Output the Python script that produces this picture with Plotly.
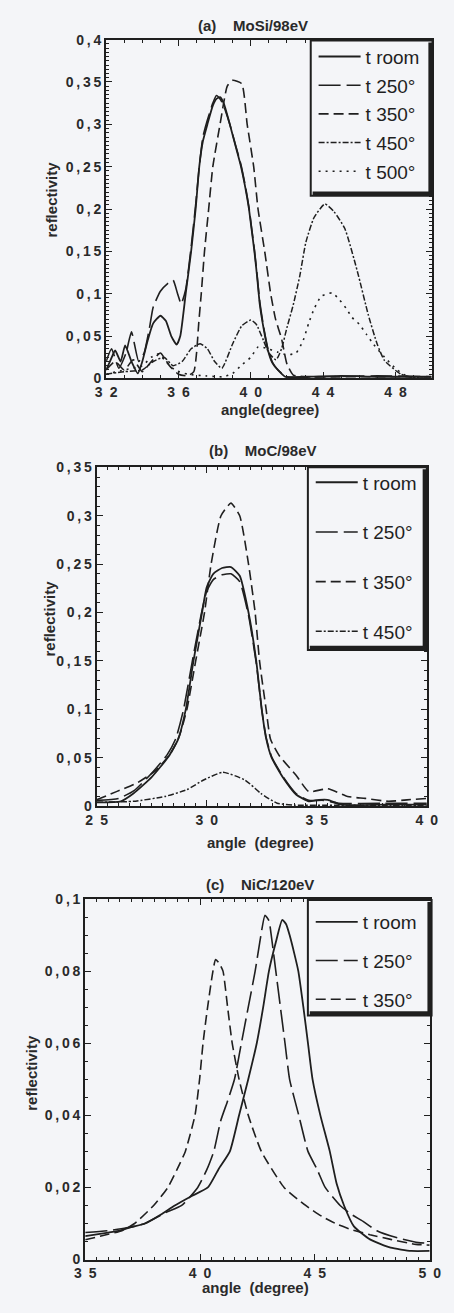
import plotly.graph_objects as go

# ---- (a) MoSi/98eV ----
a_room_x = [32.0, 32.25, 32.5, 32.8, 33.05, 33.4, 33.75, 34.0, 34.3, 34.6, 35.0, 35.3, 35.6, 35.9, 36.1, 36.4,
            36.7, 36.95, 37.15, 37.35, 37.6, 37.9, 38.1, 38.3, 38.5, 38.84, 39.15, 39.46, 39.7, 39.9, 40.05,
            40.2, 40.35, 40.5, 40.7, 40.95, 41.2, 41.5, 41.9, 43.0, 45.0, 47.0, 50.0]
a_room_y = [0.010, 0.022, 0.033, 0.020, 0.039, 0.020, 0.006, 0.020, 0.045, 0.065, 0.074, 0.068, 0.050, 0.040,
            0.050, 0.100, 0.150, 0.200, 0.250, 0.280, 0.300, 0.322, 0.330, 0.332, 0.325, 0.300, 0.275, 0.250,
            0.225, 0.200, 0.175, 0.150, 0.120, 0.087, 0.060, 0.033, 0.018, 0.010, 0.002, 0.002, 0.003, 0.002,
            0.002]
a_250_x = [32.0, 32.3, 32.7, 33.1, 33.4, 33.8, 34.1, 34.4, 34.6, 35.0, 35.4, 35.7, 35.95, 36.15, 36.4, 36.7,
           36.95, 37.15, 37.35, 37.6, 37.9, 38.1, 38.3, 38.5, 38.84, 39.15, 39.46, 39.7, 39.9, 40.05, 40.2,
           40.35, 40.5, 40.7, 40.95, 41.2, 41.5, 42.0, 44.0, 47.0, 50.0]
a_250_y = [0.020, 0.035, 0.012, 0.030, 0.055, 0.020, 0.030, 0.060, 0.084, 0.103, 0.112, 0.116, 0.100, 0.088,
           0.105, 0.155, 0.205, 0.250, 0.285, 0.305, 0.325, 0.334, 0.330, 0.322, 0.300, 0.276, 0.252, 0.227,
           0.202, 0.177, 0.152, 0.122, 0.090, 0.062, 0.035, 0.019, 0.010, 0.002, 0.002, 0.003, 0.002]
a_350_x = [32.0, 32.5, 33.0, 33.5, 34.0, 34.5, 35.0, 35.5, 36.0, 36.5, 36.85, 37.0, 37.12, 37.26, 37.44, 37.67,
           37.9, 38.3, 38.7, 39.0, 39.5, 39.8, 40.16, 40.4, 40.77, 41.1, 41.37, 41.7, 42.0, 42.35, 43.0, 46.0,
           50.0]
a_350_y = [0.010, 0.020, 0.010, 0.022, 0.008, 0.020, 0.030, 0.015, 0.005, 0.003, 0.008, 0.030, 0.065, 0.100,
           0.150, 0.200, 0.250, 0.300, 0.345, 0.352, 0.348, 0.300, 0.250, 0.200, 0.150, 0.100, 0.070, 0.047,
           0.017, 0.004, 0.002, 0.002, 0.002]
a_450_x = [32.0, 33.0, 34.0, 34.6, 35.2, 35.7, 36.2, 36.7, 37.2, 37.6, 38.0, 38.4, 39.0, 39.5, 40.0, 40.3, 40.7,
           41.0, 41.4, 41.7, 42.0, 42.35, 42.7, 43.05, 43.5, 44.1, 44.6, 45.2, 45.9, 46.5, 47.0, 47.4, 48.3,
           49.0, 50.0]
a_450_y = [0.005, 0.008, 0.010, 0.020, 0.025, 0.015, 0.020, 0.035, 0.041, 0.035, 0.020, 0.012, 0.041, 0.062,
           0.069, 0.064, 0.045, 0.030, 0.022, 0.035, 0.060, 0.087, 0.120, 0.161, 0.190, 0.206, 0.197, 0.177,
           0.126, 0.075, 0.040, 0.021, 0.005, 0.001, 0.0]
a_500_x = [32.0, 33.0, 34.0, 34.5, 34.9, 35.3, 35.8, 36.5, 37.5, 38.5, 39.0, 39.5, 40.0, 40.4, 40.8, 41.5, 42.0,
           42.5, 42.9, 43.2, 43.5, 43.9, 44.5, 44.9, 45.3, 45.6, 46.0, 46.4, 46.8, 47.4, 48.1, 48.7, 50.0]
a_500_y = [0.005, 0.010, 0.015, 0.025, 0.029, 0.020, 0.010, 0.005, 0.003, 0.002, 0.006, 0.016, 0.025, 0.037,
           0.036, 0.031, 0.028, 0.030, 0.045, 0.065, 0.082, 0.097, 0.101, 0.093, 0.082, 0.072, 0.064, 0.052,
           0.040, 0.025, 0.010, 0.002, 0.0]

# ---- (b) MoC/98eV ----
b_room_x = [25.0, 26.1, 26.67, 27.5, 28.26, 28.7, 29.05, 29.4, 29.78, 30.0, 30.3, 30.7, 31.1, 31.5, 31.9, 32.25,
            32.5, 32.7, 32.95, 33.48, 34.06, 34.64, 35.1, 35.5, 36.1, 38.0, 40.0]
b_room_y = [0.004, 0.005, 0.013, 0.030, 0.051, 0.069, 0.100, 0.150, 0.199, 0.226, 0.240, 0.246, 0.247, 0.238,
            0.200, 0.150, 0.100, 0.070, 0.050, 0.029, 0.012, 0.005, 0.0065, 0.0065, 0.0015, 0.0015, 0.0015]
b_250_x = [25.0, 26.0, 26.7, 27.5, 28.2, 28.6, 28.95, 29.35, 29.75, 30.0, 30.3, 30.7, 31.1, 31.5, 31.9, 32.25,
           32.5, 32.7, 32.95, 33.48, 34.06, 34.64, 35.3, 36.0, 38.0, 40.0]
b_250_y = [0.006, 0.008, 0.016, 0.034, 0.053, 0.070, 0.100, 0.150, 0.198, 0.222, 0.234, 0.239, 0.240, 0.232,
           0.197, 0.148, 0.100, 0.071, 0.051, 0.030, 0.013, 0.006, 0.006, 0.003, 0.003, 0.003]
b_350_x = [25.0, 25.9, 26.8, 27.7, 28.4, 28.75, 29.1, 29.5, 29.9, 30.2, 30.65, 31.1, 31.5, 31.9, 32.2, 32.4,
           32.7, 32.9, 33.3, 34.06, 34.64, 35.5, 36.4, 37.2, 38.26, 39.1, 40.0]
b_350_y = [0.0065, 0.015, 0.0235, 0.037, 0.056, 0.072, 0.100, 0.150, 0.200, 0.250, 0.300, 0.313, 0.300, 0.250,
           0.200, 0.150, 0.100, 0.069, 0.052, 0.032, 0.015, 0.018, 0.010, 0.008, 0.005, 0.0065, 0.008]
b_450_x = [25.0, 26.67, 28.1, 29.1, 29.86, 30.73, 31.74, 32.47, 33.2, 34.0, 36.0, 38.0, 40.0]
b_450_y = [0.004, 0.005, 0.010, 0.017, 0.027, 0.035, 0.027, 0.013, 0.003, 0.001, 0.001, 0.001, 0.001]

# ---- (c) NiC/120eV ----
c_room_x = [35.0, 36.0, 36.5, 37.0, 37.6, 38.3, 38.9, 39.6, 40.34, 40.8, 41.3, 41.7, 42.1, 42.47, 42.75, 43.0,
            43.3, 43.58, 43.75, 43.9, 44.1, 44.28, 44.5, 44.7, 44.9, 45.24, 45.65, 45.95, 46.27, 46.7, 47.4,
            48.3, 49.2, 50.0]
c_room_y = [0.0065, 0.0075, 0.008, 0.009, 0.010, 0.0125, 0.015, 0.0175, 0.020, 0.025, 0.030, 0.040, 0.050,
            0.060, 0.070, 0.080, 0.088, 0.0942, 0.093, 0.090, 0.085, 0.080, 0.070, 0.060, 0.050, 0.040, 0.030,
            0.021, 0.015, 0.0092, 0.0056, 0.0033, 0.0024, 0.0024]
c_250_x = [35.0, 36.0, 36.8, 37.6, 38.5, 39.2, 39.9, 40.3, 40.6, 40.9, 41.2, 41.5, 41.8, 42.1, 42.4, 42.6,
           42.83, 43.0, 43.1, 43.3, 43.5, 43.7, 43.9, 44.3, 44.7, 45.1, 45.45, 46.1, 46.6, 47.1, 47.7, 48.6,
           49.5, 50.0]
c_250_y = [0.0075, 0.008, 0.0088, 0.010, 0.013, 0.015, 0.020, 0.025, 0.030, 0.0385, 0.044, 0.050, 0.060,
           0.070, 0.080, 0.088, 0.0955, 0.094, 0.090, 0.080, 0.070, 0.060, 0.050, 0.040, 0.030, 0.025, 0.020,
           0.015, 0.0125, 0.0106, 0.008, 0.006, 0.0047, 0.0045]
c_350_x = [35.0, 36.0, 36.6, 37.15, 37.98, 38.6, 39.0, 39.36, 39.78, 39.98, 40.13, 40.33, 40.68, 40.85, 41.0,
           41.2, 41.4, 41.7, 42.1, 42.67, 43.66, 44.6, 45.3, 46.0, 46.6, 47.4, 48.3, 49.4, 50.0]
c_350_y = [0.0055, 0.007, 0.008, 0.010, 0.015, 0.020, 0.025, 0.030, 0.040, 0.050, 0.060, 0.070, 0.0832, 0.082,
           0.080, 0.070, 0.060, 0.050, 0.040, 0.030, 0.020, 0.015, 0.012, 0.0097, 0.0083, 0.0069, 0.0056,
           0.0042, 0.004]

# tick labels (spaced out like the scan)
a_tickvals = [32, 36, 40, 44, 48]
a_ticktext = ["3\u20022", "3\u20026", "4\u20020", "4\u20024", "4\u20028"]
b_tickvals = [25, 30, 35, 40]
b_ticktext = ["2\u20025", "3\u20020", "3\u20025", "4\u20020"]
c_tickvals = [35, 40, 45, 50]
c_ticktext = ["3\u20025", "4\u20020", "4\u20025", "5\u20020"]
a_yvals = [0, 0.05, 0.1, 0.15, 0.2, 0.25, 0.3, 0.35, 0.4]
a_ytext = ["0", "0\u2009,\u20090\u20095", "0\u2009,\u20091", "0\u2009,\u20091\u20095", "0\u2009,\u20092",
           "0\u2009,\u20092\u20095", "0\u2009,\u20093", "0\u2009,\u20093\u20095", "0\u2009,\u20094"]
b_yvals = [0, 0.05, 0.1, 0.15, 0.2, 0.25, 0.3, 0.35]
b_ytext = a_ytext[:8]
c_yvals = [0, 0.02, 0.04, 0.06, 0.08, 0.1]
c_ytext = ["0", "0\u2009,\u20090\u20092", "0\u2009,\u20090\u20094", "0\u2009,\u20090\u20096",
           "0\u2009,\u20090\u20098", "0\u2009,\u20091"]

INK = "#1f1f1f"
BG = "#f4f5f8"
W, H = 454, 1313

styles = {
    "t room": dict(width=1.8, dash="solid"),
    "t 250°": dict(width=1.6, dash="22px,6px"),
    "t 350°": dict(width=1.6, dash="10px,5px"),
    "t 450°": dict(width=1.5, dash="6px,2px,2px,2px"),
    "t 500°": dict(width=1.6, dash="2px,5px"),
}

fig = go.Figure()


def add(x, y, name, xa, ya, leg):
    st = styles[name]
    fig.add_trace(go.Scatter(
        x=x, y=y, name=name, mode="lines", xaxis=xa, yaxis=ya, legend=leg,
        legendgroup=leg + name,
        line=dict(color=INK, width=st["width"], dash=st["dash"], shape="spline", smoothing=0.5),
    ))


add(a_room_x, a_room_y, "t room", "x", "y", "legend")
add(a_250_x, a_250_y, "t 250°", "x", "y", "legend")
add(a_350_x, a_350_y, "t 350°", "x", "y", "legend")
add(a_450_x, a_450_y, "t 450°", "x", "y", "legend")
add(a_500_x, a_500_y, "t 500°", "x", "y", "legend")

add(b_room_x, b_room_y, "t room", "x2", "y2", "legend2")
add(b_250_x, b_250_y, "t 250°", "x2", "y2", "legend2")
add(b_350_x, b_350_y, "t 350°", "x2", "y2", "legend2")
add(b_450_x, b_450_y, "t 450°", "x2", "y2", "legend2")

add(c_room_x, c_room_y, "t room", "x3", "y3", "legend3")
add(c_250_x, c_250_y, "t 250°", "x3", "y3", "legend3")
add(c_350_x, c_350_y, "t 350°", "x3", "y3", "legend3")

tickfont = dict(family="Liberation Sans", size=14, color="#2a2a2a", weight="bold")
axis = dict(showline=True, linewidth=2, linecolor=INK, mirror="allticks", ticks="inside", ticklen=6,
            tickwidth=1.3, tickcolor=INK, showgrid=False, zeroline=False, tickfont=tickfont)


def px_x(p):
    return p / W


def px_y(p):
    return 1 - p / H


fig.update_layout(
    xaxis=dict(axis, domain=[px_x(100), px_x(442)], range=[32, 50], anchor="y",
               tickvals=a_tickvals, ticktext=a_ticktext,
               minor=dict(dtick=1, tick0=32, ticks="inside", ticklen=3, tickcolor=INK)),
    yaxis=dict(axis, domain=[px_y(375), px_y(32)], range=[0, 0.4], anchor="x",
               tickvals=a_yvals, ticktext=a_ytext,
               minor=dict(dtick=0.005, tick0=0, ticks="inside", ticklen=3, tickcolor=INK)),
    xaxis2=dict(axis, domain=[px_x(90), px_x(437)], range=[25, 40], anchor="y2",
                tickvals=b_tickvals, ticktext=b_ticktext,
                minor=dict(dtick=0.5, tick0=25, ticks="inside", ticklen=3, tickcolor=INK)),
    yaxis2=dict(axis, domain=[px_y(808), px_y(465)], range=[0, 0.35], anchor="x2",
                tickvals=b_yvals, ticktext=b_ytext,
                minor=dict(dtick=0.01, tick0=0, ticks="inside", ticklen=3, tickcolor=INK)),
    xaxis3=dict(axis, domain=[px_x(78), px_x(440)], range=[35, 50], anchor="y3",
                tickvals=c_tickvals, ticktext=c_ticktext,
                minor=dict(dtick=0.5, tick0=35, ticks="inside", ticklen=3, tickcolor=INK)),
    yaxis3=dict(axis, domain=[px_y(1267), px_y(902)], range=[0, 0.1], anchor="x3",
                tickvals=c_yvals, ticktext=c_ytext,
                minor=dict(dtick=0.005, tick0=0, ticks="inside", ticklen=3, tickcolor=INK)),
    width=W, height=H,
    margin=dict(l=0, r=0, t=0, b=0),
    paper_bgcolor=BG, plot_bgcolor=BG,
    showlegend=True,
)

# legend frames: opaque box with a heavier right/bottom edge, as on the scan
boxes = [(315, 443, 33, 190), (312, 437, 465, 650), (312, 442, 903, 1020)]
for L, R, T, B in boxes:
    fig.add_shape(type="rect", xref="paper", yref="paper", layer="above",
                  x0=px_x(L), x1=px_x(R), y0=px_y(B), y1=px_y(T),
                  line=dict(color=INK, width=2), fillcolor=BG)
    fig.add_shape(type="line", xref="paper", yref="paper", layer="above",
                  x0=px_x(R - 2), x1=px_x(R - 2), y0=px_y(B), y1=px_y(T + 2),
                  line=dict(color=INK, width=4.5))
    fig.add_shape(type="line", xref="paper", yref="paper", layer="above",
                  x0=px_x(L + 2), x1=px_x(R), y0=px_y(B - 2), y1=px_y(B - 2),
                  line=dict(color=INK, width=4.5))

legfont = dict(family="Liberation Sans", size=19, color=INK)
leg = dict(xanchor="left", yanchor="top", bgcolor="rgba(0,0,0,0)", borderwidth=0,
           font=legfont, traceorder="grouped", itemwidth=42)
fig.update_layout(
    legend=dict(leg, x=px_x(318), y=px_y(30), tracegroupgap=1),
    legend2=dict(leg, x=px_x(315), y=px_y(461), tracegroupgap=22),
    legend3=dict(leg, x=px_x(315), y=px_y(906), tracegroupgap=11),
)

titlefont = dict(family="Liberation Sans", size=15, color="#2a2a2a", weight="bold")
labels = [
    ("(a)    MoSi/98eV", 254, 18, 0),
    ("(b)    MoC/98eV", 265, 448, 0),
    ("(c)    NiC/120eV", 262, 887, 0),
    ("angle(degree)", 272, 406, 0),
    ("angle  (degree)", 262, 845, 0),
    ("angle  (degree)", 257, 1295, 0),
    ("reflectivity", 43, 194, -90),
    ("reflectivity", 40, 618, -90),
    ("reflectivity", 22, 1078, -90),
]
for text, x, y, ang in labels:
    fig.add_annotation(text=text, x=px_x(x), y=px_y(y), xref="paper", yref="paper",
                       showarrow=False, textangle=ang, font=titlefont,
                       xanchor="center", yanchor="middle")

# drop the default page margin and any scrollbars so the figure fills the window exactly
fig.write_html(
    "out.html",
    config={"displayModeBar": False},
    post_script="document.body.style.margin='0px';"
                "document.body.style.overflow='hidden';"
                "document.documentElement.style.overflow='hidden';",
)
